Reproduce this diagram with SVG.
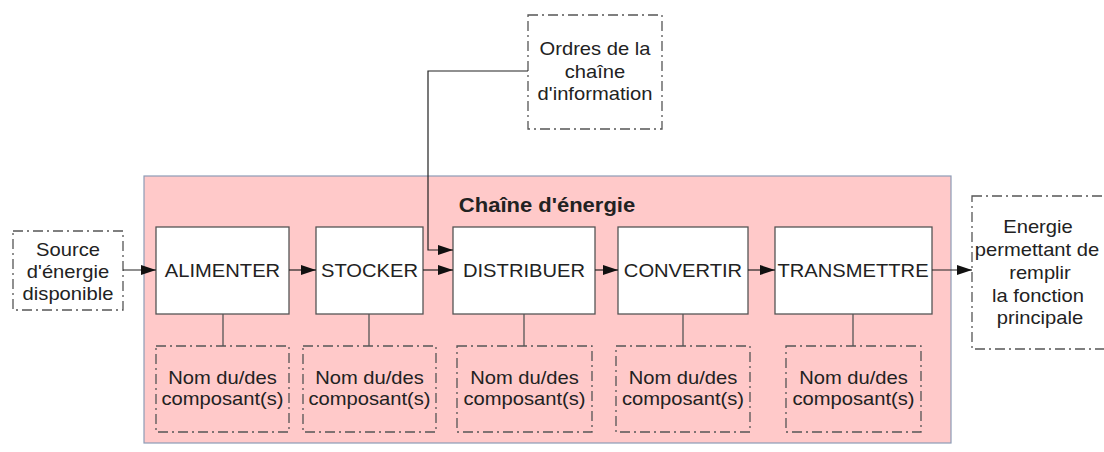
<svg xmlns="http://www.w3.org/2000/svg" width="1104" height="452" viewBox="0 0 1104 452">
<defs>
<style>
.t{font-family:"Liberation Sans",Arial,sans-serif;font-size:18px;fill:#222;text-anchor:middle}
.title{font-family:"Liberation Sans",Arial,sans-serif;font-size:20px;font-weight:bold;fill:#222;text-anchor:middle}
.box{fill:#fff;stroke:#555;stroke-width:1.3}
.dd{fill:none;stroke:#555;stroke-width:1.3;stroke-dasharray:10 4 2 4}
.ddw{fill:#fff;stroke:#555;stroke-width:1.3;stroke-dasharray:10 4 2 4}
.ln{fill:none;stroke:#222;stroke-width:1.2}
.st{fill:none;stroke:#555;stroke-width:1.3}
</style>
<marker id="arr" viewBox="0 0 15 10" refX="15" refY="5" markerWidth="15" markerHeight="10" markerUnits="userSpaceOnUse" orient="auto">
<path d="M0,0 L15,5 L0,10 Z" fill="#111"/>
</marker>
</defs>
<rect width="1104" height="452" fill="#fff"/>

<g id="chaine-energie">
<rect x="144" y="176" width="807" height="267" fill="#ffc9c9" stroke="#8d9cb6" stroke-width="1.2"/>
<text class="title" transform="translate(547,212) scale(1.1,1)">Chaîne d'énergie</text>
</g>

<g id="ordres">
<rect class="ddw" x="528" y="15" width="134" height="114"/>
<text class="t" transform="translate(595,55) scale(1.12,1)">Ordres de la</text>
<text class="t" transform="translate(595,78) scale(1.12,1)">chaîne</text>
<text class="t" transform="translate(595,100) scale(1.12,1)">d'information</text>
</g>

<g id="source">
<rect class="ddw" x="13" y="231" width="110" height="79"/>
<text class="t" transform="translate(68,256) scale(1.12,1)">Source</text>
<text class="t" transform="translate(68,278) scale(1.12,1)">d'énergie</text>
<text class="t" transform="translate(68,300) scale(1.12,1)">disponible</text>
</g>

<g id="energie-sortie">
<rect class="ddw" x="972" y="196" width="140" height="153"/>
<text class="t" transform="translate(1038,233) scale(1.12,1)">Energie</text>
<text class="t" transform="translate(1037,256) scale(1.12,1)">permettant de</text>
<text class="t" transform="translate(1040,279) scale(1.12,1)">remplir</text>
<text class="t" transform="translate(1038,302) scale(1.12,1)">la fonction</text>
<text class="t" transform="translate(1040,324) scale(1.12,1)">principale</text>
</g>

<g id="alimenter">
<rect class="box" x="156" y="227" width="133" height="87"/>
<text class="t" transform="translate(222.5,277) scale(1.12,1)">ALIMENTER</text>
</g>
<g id="stocker">
<rect class="box" x="316" y="227" width="107" height="87"/>
<text class="t" transform="translate(369.5,277) scale(1.12,1)">STOCKER</text>
</g>
<g id="distribuer">
<rect class="box" x="453" y="227" width="142" height="87"/>
<text class="t" transform="translate(524,277) scale(1.12,1)">DISTRIBUER</text>
</g>
<g id="convertir">
<rect class="box" x="618" y="227" width="130" height="87"/>
<text class="t" transform="translate(683,277) scale(1.12,1)">CONVERTIR</text>
</g>
<g id="transmettre">
<rect class="box" x="775" y="227" width="157" height="87"/>
<text class="t" transform="translate(853,277) scale(1.12,1)">TRANSMETTRE</text>
</g>

<g id="comp-alimenter">
<rect class="dd" x="156" y="346" width="133" height="86"/>
<text class="t" transform="translate(222.5,384) scale(1.12,1)">Nom du/des</text>
<text class="t" transform="translate(222.5,405) scale(1.12,1)">composant(s)</text>
</g>
<g id="comp-stocker">
<rect class="dd" x="303" y="346" width="133" height="86"/>
<text class="t" transform="translate(369.5,384) scale(1.12,1)">Nom du/des</text>
<text class="t" transform="translate(369.5,405) scale(1.12,1)">composant(s)</text>
</g>
<g id="comp-distribuer">
<rect class="dd" x="457" y="346" width="135" height="86"/>
<text class="t" transform="translate(524.5,384) scale(1.12,1)">Nom du/des</text>
<text class="t" transform="translate(524.5,405) scale(1.12,1)">composant(s)</text>
</g>
<g id="comp-convertir">
<rect class="dd" x="616" y="346" width="134" height="86"/>
<text class="t" transform="translate(683,384) scale(1.12,1)">Nom du/des</text>
<text class="t" transform="translate(683,405) scale(1.12,1)">composant(s)</text>
</g>
<g id="comp-transmettre">
<rect class="dd" x="786" y="346" width="135" height="86"/>
<text class="t" transform="translate(853.5,384) scale(1.12,1)">Nom du/des</text>
<text class="t" transform="translate(853.5,405) scale(1.12,1)">composant(s)</text>
</g>

<g id="connectors">
<line class="ln" x1="123" y1="270" x2="156" y2="270" marker-end="url(#arr)"/>
<line class="ln" x1="289" y1="270" x2="316" y2="270" marker-end="url(#arr)"/>
<line class="ln" x1="423" y1="270" x2="453" y2="270" marker-end="url(#arr)"/>
<line class="ln" x1="595" y1="270" x2="618" y2="270" marker-end="url(#arr)"/>
<line class="ln" x1="748" y1="270" x2="775" y2="270" marker-end="url(#arr)"/>
<line class="ln" x1="932" y1="270" x2="972" y2="270" marker-end="url(#arr)"/>
<polyline class="ln" points="528,71 428,71 428,250 453,250" marker-end="url(#arr)"/>
<line class="st" x1="223" y1="314" x2="223" y2="346"/>
<line class="st" x1="369" y1="314" x2="369" y2="346"/>
<line class="st" x1="524" y1="314" x2="524" y2="346"/>
<line class="st" x1="683" y1="314" x2="683" y2="346"/>
<line class="st" x1="853" y1="314" x2="853" y2="346"/>
</g>
</svg>
